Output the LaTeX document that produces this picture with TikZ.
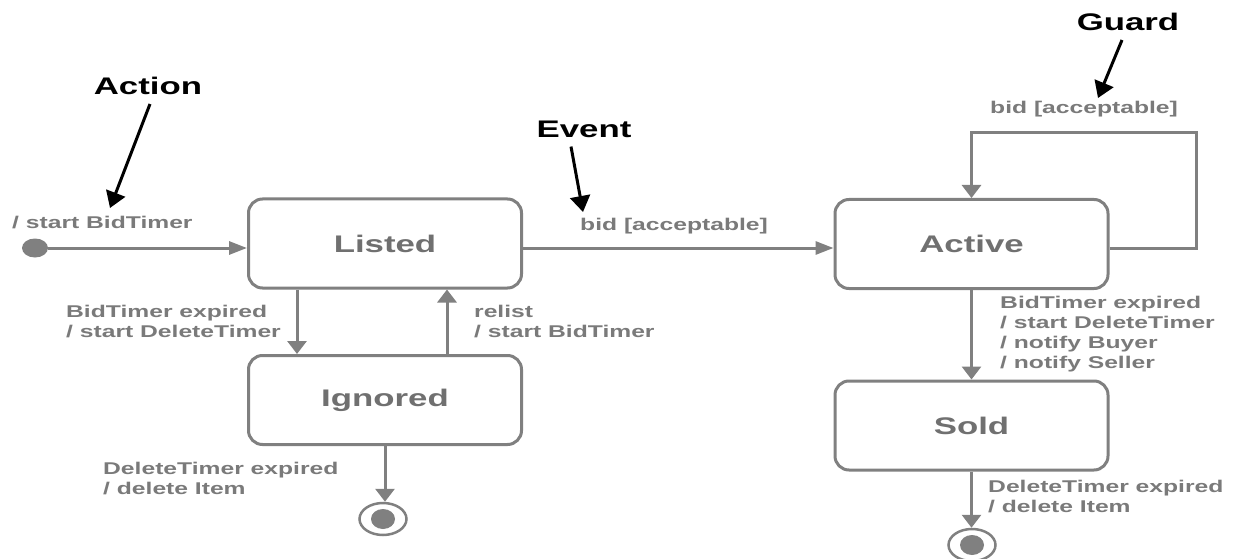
\documentclass[tikz,border=0pt]{standalone}
\usepackage{fontspec}
\usetikzlibrary{arrows.meta,shapes.geometric}
\newfontfamily\widesans{Liberation Sans}[FakeStretch=1.45]
\definecolor{linegray}{RGB}{128,128,128}
\definecolor{txtgray}{RGB}{122,122,122}
\definecolor{namegray}{RGB}{112,112,112}
\tikzset{
  statebox/.style={rectangle, rounded corners=14pt, draw=linegray, line width=3pt,
    minimum width=273pt, minimum height=89pt, inner sep=0pt,
    font=\widesans\bfseries\fontsize{24}{28}\selectfont, text=namegray},
  trlabel/.style={inner sep=0pt, align=left, text=txtgray,
    font=\widesans\bfseries\fontsize{17}{20}\selectfont},
  callout/.style={inner sep=0pt, text=black,
    font=\widesans\bfseries\fontsize{24}{28}\selectfont},
  tv/.style={draw=linegray, line width=3pt, -{Triangle[length=13pt,width=19pt]}},
  th/.style={draw=linegray, line width=3pt, -{Triangle[length=18pt,width=13pt]}},
  annot/.style={draw=black, line width=3pt, -{Triangle[length=16pt,width=20pt]}},
  initst/.style={ellipse, fill=linegray, minimum width=26pt, minimum height=19pt, inner sep=0pt},
  finalst/.style={ellipse, draw=linegray, line width=2.5pt, fill=white,
    minimum width=47pt, minimum height=32pt, inner sep=0pt,
    path picture={\fill[linegray] (path picture bounding box.center) ellipse (12pt and 10pt);}},
}
\begin{document}
\begin{tikzpicture}[x=1pt,y=-1pt]
\useasboundingbox[fill=white] (0,0) rectangle (1235,559);

% states
\node[statebox] (L) at (385,243.5) {Listed};
\node[statebox] (I) at (385,400) {Ignored};
\node[statebox] (A) at (971.5,244) {Active};
\node[statebox] (S) at (971.5,425.5) {Sold};

% pseudo states
\node[initst] (init) at (35,248) {};
\node[finalst] (fin1) at (383,519) {};
\node[finalst] (fin2) at (972,545) {};

% transitions
\draw[th] (init) -- (init -| L.west);
\draw[th] ([yshift=-4.5pt]L.east) -- ([yshift=-4pt]A.west);
\draw[tv] ([xshift=-88pt]L.south) -- ([xshift=-88pt]I.north);
\draw[tv] ([xshift=62pt]I.north) -- ([xshift=62pt]L.south);
\draw[tv] (I.south) -- (I.south |- fin1.north);
\coordinate (loopCorner) at (1196,133);
\draw[tv] ([yshift=-4pt]A.east) -| (loopCorner) -| (A.north);
\draw[tv] (A.south) -- (S.north);
\draw[tv] (S.south) -- (S.south |- fin2.north);

% transition labels
\node[trlabel, anchor=west] (lInit) at (12,223) {/ start BidTimer};
\node[trlabel, anchor=west] (lBid) at (580,226) {bid [acceptable]};
\node[trlabel, anchor=west] (lLoop) at (990,109) {bid [acceptable]};
\node[trlabel, anchor=west] (lExp) at (66,322) {BidTimer expired\\/ start DeleteTimer};
\node[trlabel, anchor=west] (lRelist) at (474,322) {relist\\/ start BidTimer};
\node[trlabel, anchor=west] (lDel1) at (103,479) {DeleteTimer expired\\/ delete Item};
\node[trlabel, anchor=west] (lSold) at (1000,334.5) {BidTimer expired\\/ start DeleteTimer\\/ notify Buyer\\/ notify Seller};
\node[trlabel, anchor=west] (lDel2) at (988,497) {DeleteTimer expired\\/ delete Item};

% callouts
\node[callout] (action) at (148,86) {Action};
\node[callout] (event) at (584,129) {Event};
\node[callout] (guard) at (1128,22) {Guard};
\coordinate (actTip) at (110,208);
\coordinate (evtTip) at (583,212);
\coordinate (grdTip) at (1098,98);
\draw[annot] ([xshift=2pt,yshift=-9pt]action.south) -- (actTip);
\draw[annot] ([xshift=-13pt,yshift=-9pt]event.south) -- (evtTip);
\draw[annot] ([xshift=-6pt,yshift=-9pt]guard.south) -- (grdTip);
\end{tikzpicture}
\end{document}
